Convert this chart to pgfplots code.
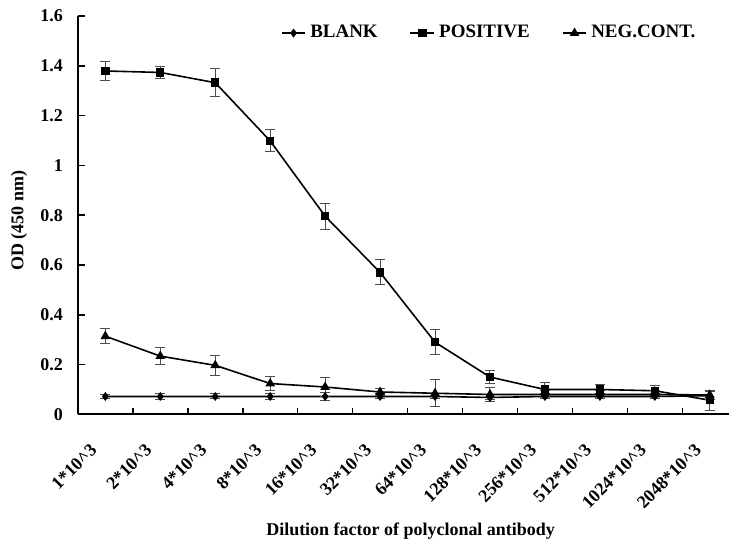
\documentclass[border=0pt]{standalone}
\usepackage{fontspec}
\setmainfont{Liberation Serif}
\usepackage{pgfplots}
\pgfplotsset{compat=1.18}
\begin{document}
\begin{tikzpicture}
\begin{axis}[
  scale only axis,
  width=326pt, height=199.5pt,
  xmin=-0.5, xmax=11.35,
  ymin=0, ymax=1.6,
  axis x line*=bottom, axis y line*=left,
  axis line style={line width=1pt},
  xtick={0,...,11},
  xticklabels={1*10\^{}3,2*10\^{}3,4*10\^{}3,8*10\^{}3,16*10\^{}3,32*10\^{}3,64*10\^{}3,128*10\^{}3,256*10\^{}3,512*10\^{}3,1024*10\^{}3,2048*10\^{}3},
  major x tick style={draw=none},
  minor xtick={0.5,1.5,...,10.5},
  minor tick length=3pt,
  minor x tick style={line width=0.8pt, black},
  ytick={0,0.2,...,1.6},
  major tick length=3.5pt,
  tick align=inside,
  y tick style={line width=0.8pt, black},
  /pgf/number format/assume math mode=true,
  tick label style={font=\fontsize{9}{10}\selectfont\bfseries},
  yticklabel style={xshift=-4pt},
  xticklabel style={xshift=-8pt, yshift=-14pt, rotate=45, anchor=north east, inner sep=0pt},
  xlabel={Dilution factor of polyclonal antibody},
  ylabel={OD (450 nm)},
  label style={font=\fontsize{9}{11}\selectfont\bfseries},
  xlabel style={at={(axis description cs:0.511,-0.293)}, anchor=center},
  ylabel style={at={(axis description cs:-0.0905,0.486)}, anchor=center},
  legend columns=3,
  legend style={at={(0.633,0.957)}, anchor=center, draw=none, fill=none,
    font=\fontsize{9.5}{10}\selectfont\bfseries, /tikz/every even column/.append style={column sep=14pt}},
  legend image code/.code={\draw[mark repeat=2,mark phase=2,#1] plot coordinates {(0cm,0cm) (0.21cm,0cm) (0.42cm,0cm)};},
  error bars/error bar style={black!70, line width=0.5pt},
  error bars/error mark options={rotate=90, mark size=2.5pt, black!70, line width=0.5pt},
  clip=false,
]
\addplot[black, line width=0.8pt, mark=diamond*, mark size=1.6pt, mark options={solid, fill=black}, error bars/.cd, y dir=both, y explicit]
  table[x=x, y=y, y error=e] {
x y e
0 0.072 0.008
1 0.072 0.012
2 0.072 0.010
3 0.072 0.012
4 0.072 0.015
5 0.072 0.010
6 0.072 0.010
7 0.068 0.010
8 0.072 0.010
9 0.072 0.010
10 0.072 0.010
11 0.075 0.015
};
\addlegendentry{BLANK}
\addplot[black, line width=0.8pt, mark=square*, mark size=1.7pt, mark options={solid, fill=black}, error bars/.cd, y dir=both, y explicit]
  table[x=x, y=y, y error=e] {
x y e
0 1.379 0.040
1 1.373 0.025
2 1.332 0.055
3 1.098 0.044
4 0.796 0.052
5 0.570 0.050
6 0.290 0.050
7 0.150 0.025
8 0.100 0.030
9 0.100 0.020
10 0.095 0.020
11 0.057 0.040
};
\addlegendentry{POSITIVE}
\addplot[black, line width=0.8pt, mark=triangle*, mark size=2pt, mark options={solid, fill=black}, error bars/.cd, y dir=both, y explicit]
  table[x=x, y=y, y error=e] {
x y e
0 0.314 0.030
1 0.234 0.035
2 0.197 0.040
3 0.124 0.030
4 0.110 0.040
5 0.090 0.015
6 0.085 0.055
7 0.080 0.030
8 0.080 0.015
9 0.080 0.015
10 0.080 0.015
11 0.078 0.020
};
\addlegendentry{NEG.CONT.}
\path (rel axis cs:-0.1196,-0.331) rectangle (rel axis cs:1,1.040);
\end{axis}
\end{tikzpicture}
\end{document}
